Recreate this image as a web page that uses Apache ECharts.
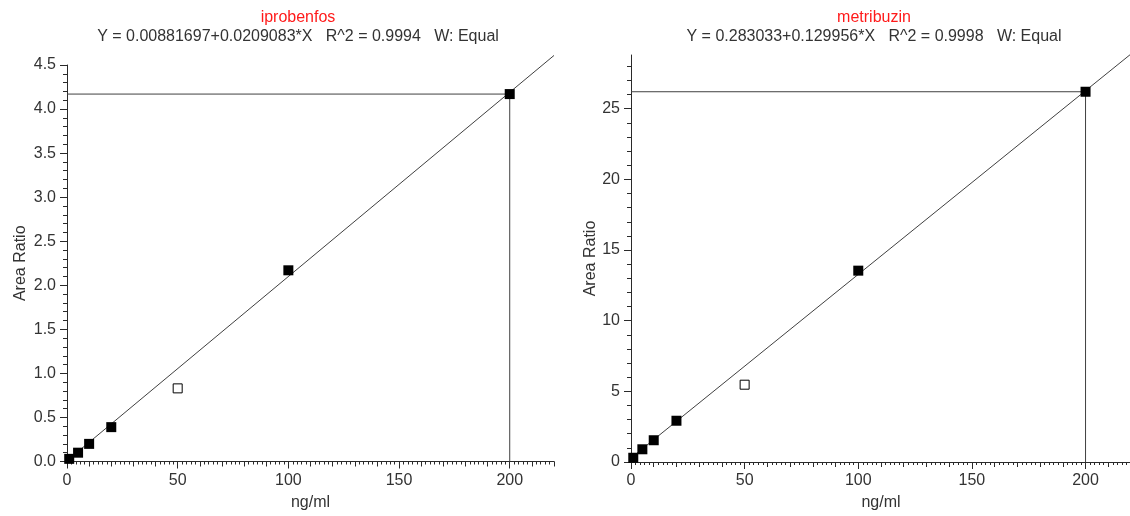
<!DOCTYPE html>
<html>
<head>
<meta charset="utf-8">
<script src="https://cdn.jsdelivr.net/npm/echarts@6/dist/echarts.min.js"></script>
<style>
html,body{margin:0;padding:0;background:#ffffff;}
#c{width:1130px;height:516px;}
</style>
</head>
<body>
<div id="c"></div>
<script>
// ---------------- data ----------------
const concentrations = [1, 5, 10, 20, 50, 100, 200];           // ng/ml
const excludedPoint  = [false, false, false, false, true, false, false];
const iprobenfosRatio = [0.03, 0.10, 0.20, 0.39, 0.83, 2.17, 4.17];
const metribuzinRatio = [0.30, 0.90, 1.54, 2.92, 5.47, 13.54, 26.2];
const compoundNames = ['iprobenfos', 'metribuzin'];
const equations = [
  'Y = 0.00881697+0.0209083*X   R^2 = 0.9994   W: Equal',
  'Y = 0.283033+0.129956*X   R^2 = 0.9998   W: Equal'
];
const fitX = [0, 220];
const iprobenfosFitY = [0.00881697, 4.6084];
const metribuzinFitY = [0.283033, 28.8733];
const xTickLabels = [0, 50, 100, 150, 200];
const iprobenfosYTickLabels = [0, 0.5, 1.0, 1.5, 2.0, 2.5, 3.0, 3.5, 4.0, 4.5];
const metribuzinYTickLabels = [0, 5, 10, 15, 20, 25];
const xAxisName = 'ng/ml';
const yAxisName = 'Area Ratio';

// ---------------- layout / style ----------------
const FONT = '"Liberation Sans", Arial, Helvetica, sans-serif';
const TXT = '#333333';
const AX = '#2a2a2a';
const panels = [
  { name: compoundNames[0], eq: equations[0], y: iprobenfosRatio, fitY: iprobenfosFitY, yTicks: iprobenfosYTickLabels,
    left: 67, top: 65, width: 487, height: 396.5, xMax: 220, yMax: 4.5, yMinor: 0.1, yMinorTop: 4.5,
    titleX: 298, yNameGap: 38, yDecimals: 1 },
  { name: compoundNames[1], eq: equations[1], y: metribuzinRatio, fitY: metribuzinFitY, yTicks: metribuzinYTickLabels,
    left: 631, top: 55, width: 500, height: 407, xMax: 220, yMax: 28.8, yMinor: 1, yMinorTop: 28,
    titleX: 874, yNameGap: 32, yDecimals: 0 }
];

const option = {
  animation: false,
  backgroundColor: '#ffffff',
  textStyle: { fontFamily: FONT },
  title: [], grid: [], xAxis: [], yAxis: [], series: []
};

function addGrid(left, top, width, height) {
  option.grid.push({ left, top, width, height, containLabel: false, outerBoundsMode: 'none' });
  return option.grid.length - 1;
}
function hidden(gridIndex, max) {
  return { type: 'value', gridIndex, min: 0, max, show: false, splitLine: { show: false } };
}
const tickStyle = { color: AX, width: 1 };
const labelStyle = { color: TXT, fontSize: 16, fontFamily: FONT };

panels.forEach((p) => {
  // titles
  option.title.push({ text: p.name, left: p.titleX, top: 10, padding: 0, textAlign: 'center',
    textStyle: { color: '#ff1a1a', fontSize: 16, fontWeight: 'normal', fontFamily: FONT } });
  option.title.push({ text: p.eq, left: p.titleX, top: 29, padding: 0, textAlign: 'center',
    textStyle: { color: TXT, fontSize: 16, fontWeight: 'normal', fontFamily: FONT } });

  // main grid: axis lines, names, data
  const g = addGrid(p.left, p.top, p.width, p.height);
  const xi = option.xAxis.length, yi = option.yAxis.length;
  option.xAxis.push({ type: 'value', gridIndex: g, min: 0, max: p.xMax, position: 'bottom',
    axisLine: { show: true, onZero: false, lineStyle: { color: AX, width: 1 } },
    axisTick: { show: false }, axisLabel: { show: false }, splitLine: { show: false },
    name: xAxisName, nameLocation: 'middle', nameGap: 33, nameTextStyle: labelStyle });
  option.yAxis.push({ type: 'value', gridIndex: g, min: 0, max: p.yMax, position: 'left',
    axisLine: { show: true, onZero: false, lineStyle: { color: AX, width: 1 } },
    axisTick: { show: false }, axisLabel: { show: false }, splitLine: { show: false },
    name: yAxisName, nameLocation: 'middle', nameGap: p.yNameGap, nameTextStyle: labelStyle });

  // x ticks: every 10 with minor every 2 (full range)
  const gxa = addGrid(p.left, p.top, p.width, p.height);
  option.xAxis.push({ type: 'value', gridIndex: gxa, min: 0, max: p.xMax, interval: 10, position: 'bottom',
    axisLine: { show: false }, axisLabel: { show: false }, splitLine: { show: false },
    axisTick: { show: true, length: 5, lineStyle: tickStyle },
    minorTick: { show: true, splitNumber: 5, length: 3, lineStyle: tickStyle } });
  option.yAxis.push(hidden(gxa, p.yMax));

  // x major ticks with labels
  const xLast = xTickLabels[xTickLabels.length - 1];
  const gxb = addGrid(p.left, p.top, p.width * xLast / p.xMax, p.height);
  option.xAxis.push({ type: 'value', gridIndex: gxb, min: 0, max: xLast, interval: xTickLabels[1] - xTickLabels[0], position: 'bottom',
    axisLine: { show: false }, splitLine: { show: false },
    axisTick: { show: true, length: 7, lineStyle: tickStyle },
    axisLabel: { show: true, margin: 11, ...labelStyle } });
  option.yAxis.push(hidden(gxb, p.yMax));

  // y minor ticks
  const hMin = p.height * p.yMinorTop / p.yMax;
  const gya = addGrid(p.left, p.top + p.height - hMin, p.width, hMin);
  option.xAxis.push(hidden(gya, p.xMax));
  option.yAxis.push({ type: 'value', gridIndex: gya, min: 0, max: p.yMinorTop, interval: p.yMinor, position: 'left',
    axisLine: { show: false }, axisLabel: { show: false }, splitLine: { show: false },
    axisTick: { show: true, length: 4, lineStyle: tickStyle } });

  // y major ticks with labels
  const yLastTick = p.yTicks[p.yTicks.length - 1];
  const hMaj = p.height * yLastTick / p.yMax;
  const gyb = addGrid(p.left, p.top + p.height - hMaj, p.width, hMaj);
  option.xAxis.push(hidden(gyb, p.xMax));
  option.yAxis.push({ type: 'value', gridIndex: gyb, min: 0, max: yLastTick, interval: p.yTicks[1] - p.yTicks[0], position: 'left',
    axisLine: { show: false }, splitLine: { show: false },
    axisTick: { show: true, length: 7, lineStyle: tickStyle },
    axisLabel: { show: true, margin: 11, ...labelStyle, formatter: (v) => v.toFixed(p.yDecimals) } });

  // series
  const n = concentrations.length;
  const xTop = concentrations[n - 1], yTop = p.y[n - 1];
  option.series.push({ type: 'line', xAxisIndex: xi, yAxisIndex: yi, clip: false, silent: true,
    data: fitX.map((x, i) => [x, p.fitY[i]]), symbol: 'none',
    lineStyle: { color: '#404040', width: 1 }, z: 2 });
  option.series.push({ type: 'line', xAxisIndex: xi, yAxisIndex: yi, clip: false, silent: true,
    data: [[0, yTop], [xTop, yTop], [xTop, 0]], symbol: 'none',
    lineStyle: { color: '#404040', width: 1 }, z: 2 });
  option.series.push({ type: 'scatter', xAxisIndex: xi, yAxisIndex: yi, silent: true,
    data: concentrations.map((x, i) => [x, p.y[i]]).filter((d, i) => !excludedPoint[i]),
    symbol: 'rect', symbolSize: 10, itemStyle: { color: '#000000', opacity: 1 }, z: 5 });
  option.series.push({ type: 'scatter', xAxisIndex: xi, yAxisIndex: yi, silent: true,
    data: concentrations.map((x, i) => [x, p.y[i]]).filter((d, i) => excludedPoint[i]),
    symbol: 'rect', symbolSize: 9, itemStyle: { color: '#ffffff', borderColor: '#000000', borderWidth: 1, opacity: 1 }, z: 5 });
});

const chart = echarts.init(document.getElementById('c'), null, { renderer: 'canvas' });
chart.setOption(option);
</script>
</body>
</html>
